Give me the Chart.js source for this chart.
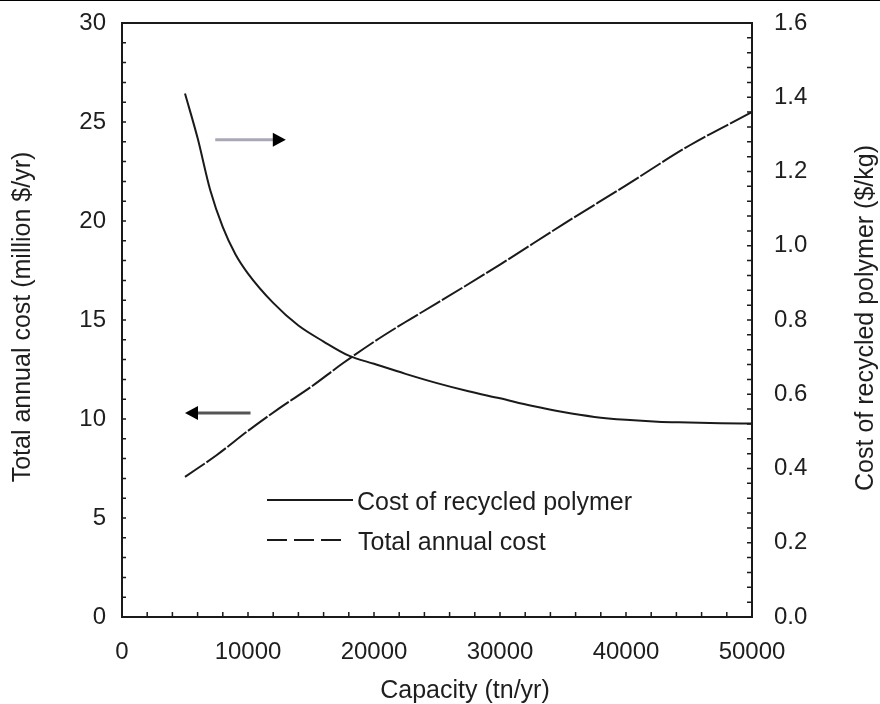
<!DOCTYPE html>
<html>
<head>
<meta charset="utf-8">
<script src="https://cdn.jsdelivr.net/npm/chart.js@4.4.1/dist/chart.umd.min.js"></script>
<style>
html, body { margin: 0; padding: 0; background: #fff; }
#wrap { width: 880px; height: 704px; position: relative; }
</style>
</head>
<body>
<div id="wrap"><canvas id="myChart"></canvas></div>
<script>
// cost of recycled polymer ($/kg) -> right axis
var costCapacity = [5000, 6000, 7000, 8000, 9000, 10000, 12000, 14000, 16000, 18000, 20000, 22500, 25000, 27500, 30000, 32500, 35000, 37500, 40000, 42500, 45000, 47500, 50000];
var costPolymer = [1.41, 1.29, 1.15, 1.05, 0.977, 0.925, 0.846, 0.785, 0.742, 0.704, 0.682, 0.655, 0.630, 0.608, 0.589, 0.569, 0.552, 0.539, 0.531, 0.526, 0.524, 0.522, 0.521];

// total annual cost (million $/yr) -> left axis
var totalCapacity = [5000, 7500, 10000, 12500, 15000, 17500, 20000, 22500, 25000, 30000, 35000, 40000, 45000, 50000];
var totalCost = [7.08, 8.17, 9.4, 10.55, 11.62, 12.8, 13.9, 14.9, 15.85, 17.8, 19.83, 21.8, 23.8, 25.5];

var xTicks = [0, 10000, 20000, 30000, 40000, 50000];
var leftTicks = [0, 5, 10, 15, 20, 25, 30];
var rightTicks = [0, 0.2, 0.4, 0.6, 0.8, 1.0, 1.2, 1.4, 1.6];

var seriesNames = ["Cost of recycled polymer", "Total annual cost"];
var xTitle = "Capacity (tn/yr)";
var leftTitle = "Total annual cost (million $/yr)";
var rightTitle = "Cost of recycled polymer ($/kg)";

// arrows, in data units (capacity, left axis value)
var arrowToRight = { from: 7400, to: 13000, y: 24.1 };
var arrowToLeft = { from: 10200, to: 5000, y: 10.3 };

var ink = "#1a1a1a";
var fontFam = "'Liberation Sans', Arial, sans-serif";

function pts(xs, ys) {
    return xs.map((x, i) => ({ x: x, y: ys[i] }));
}

function fixTicks(list) {
    return function (scale) {
        scale.ticks = list.map((v) => ({ value: v }));
    };
}

function arrow(ctx, x0, x1, y, shaft) {
    let dir = x1 > x0 ? 1 : -1;
    ctx.strokeStyle = shaft;
    ctx.lineWidth = 3;
    ctx.setLineDash([]);
    ctx.beginPath();
    ctx.moveTo(x0, y);
    ctx.lineTo(x1 - dir * 10, y);
    ctx.stroke();
    ctx.fillStyle = "#000";
    ctx.beginPath();
    ctx.moveTo(x1, y);
    ctx.lineTo(x1 - dir * 13, y - 7);
    ctx.lineTo(x1 - dir * 13, y + 7);
    ctx.closePath();
    ctx.fill();
}

var extras = {
    id: "extras",
    afterDraw(chart) {
        let ctx = chart.ctx;
        let a = chart.chartArea;
        let xs = chart.scales.x, yl = chart.scales.y, yr = chart.scales.y1;
        ctx.save();

        // thin rule across the very top
        ctx.fillStyle = "#000";
        ctx.fillRect(0, 0, chart.width, 1);

        // frame
        ctx.strokeStyle = ink;
        ctx.lineWidth = 2;
        ctx.strokeRect(a.left, a.top, a.right - a.left, a.bottom - a.top);

        // inward minor ticks
        ctx.lineWidth = 1.5;
        ctx.beginPath();
        for (let v = 0; v <= 50000; v += 2000) {
            let px = xs.getPixelForValue(v);
            ctx.moveTo(px, a.bottom);
            ctx.lineTo(px, a.bottom - 5);
        }
        for (let v = 0; v <= 30; v += 1) {
            let py = yl.getPixelForValue(v);
            ctx.moveTo(a.left, py);
            ctx.lineTo(a.left + 4, py);
        }
        for (let i = 0; i <= 40; i++) {
            let py = yr.getPixelForValue(i * 0.04);
            ctx.moveTo(a.right, py);
            ctx.lineTo(a.right - 5, py);
        }
        ctx.stroke();

        // arrows
        arrow(ctx, xs.getPixelForValue(arrowToRight.from), xs.getPixelForValue(arrowToRight.to),
            yl.getPixelForValue(arrowToRight.y), "#a9a7b6");
        arrow(ctx, xs.getPixelForValue(arrowToLeft.from), xs.getPixelForValue(arrowToLeft.to),
            yl.getPixelForValue(arrowToLeft.y), "#555");

        // legend
        ctx.strokeStyle = ink;
        ctx.lineWidth = 2;
        ctx.beginPath();
        ctx.moveTo(267, 500);
        ctx.lineTo(353, 500);
        ctx.stroke();
        ctx.setLineDash([20, 7]);
        ctx.beginPath();
        ctx.moveTo(267, 540);
        ctx.lineTo(347, 540);
        ctx.stroke();
        ctx.setLineDash([]);
        ctx.fillStyle = "#1e1e1e";
        ctx.font = "25px " + fontFam;
        ctx.textAlign = "left";
        ctx.textBaseline = "alphabetic";
        ctx.fillText(seriesNames[0], 357, 510);
        ctx.fillText(seriesNames[1], 358, 550);

        // axis titles
        ctx.textAlign = "center";
        ctx.textBaseline = "middle";
        ctx.fillText(xTitle, 465, 691);
        ctx.save();
        ctx.translate(23, 317);
        ctx.rotate(-Math.PI / 2);
        ctx.fillText(leftTitle, 0, 0);
        ctx.restore();
        ctx.save();
        ctx.translate(866, 318);
        ctx.rotate(-Math.PI / 2);
        ctx.fillText(rightTitle, 0, 0);
        ctx.restore();

        ctx.restore();
    }
};

var tickFont = { family: "'Liberation Sans', Arial, sans-serif", size: 24 };

function fitY(w) {
    return function (s) {
        s.width = w;
        s.paddingTop = 0;
        s.paddingBottom = 0;
    };
}

var myChart = new Chart(document.getElementById("myChart"), {
    type: "line",
    data: {
        datasets: [
            {
                label: seriesNames[0],
                data: pts(costCapacity, costPolymer),
                yAxisID: "y1",
                borderColor: ink,
                borderWidth: 2,
                pointRadius: 0,
                cubicInterpolationMode: "monotone",
                fill: false
            },
            {
                label: seriesNames[1],
                data: pts(totalCapacity, totalCost),
                yAxisID: "y",
                borderColor: ink,
                borderWidth: 2,
                borderDash: [24, 2],
                pointRadius: 0,
                cubicInterpolationMode: "monotone",
                fill: false
            }
        ]
    },
    options: {
        responsive: true,
        maintainAspectRatio: false,
        animation: false,
        layout: { padding: { top: 23, left: 0, right: 0, bottom: 0 } },
        plugins: {
            legend: { display: false },
            tooltip: { enabled: false }
        },
        scales: {
            x: {
                type: "linear",
                min: 0,
                max: 50000,
                afterBuildTicks: fixTicks(xTicks),
                afterFit: (s) => { s.height = 87; },
                grid: { display: false, drawTicks: false },
                border: { display: false },
                ticks: { font: tickFont, color: "#1e1e1e", padding: 21, maxRotation: 0, callback: (v) => String(v) }
            },
            y: {
                position: "left",
                min: 0,
                max: 30,
                afterBuildTicks: fixTicks(leftTicks),
                afterFit: fitY(122),
                grid: { display: false, drawTicks: false },
                border: { display: false },
                ticks: { font: tickFont, color: "#1e1e1e", padding: 16 }
            },
            y1: {
                position: "right",
                min: 0,
                max: 1.6,
                afterBuildTicks: fixTicks(rightTicks),
                afterFit: fitY(128),
                grid: { display: false, drawTicks: false },
                border: { display: false },
                ticks: { font: tickFont, color: "#1e1e1e", padding: 22, callback: (v) => v.toFixed(1) }
            }
        }
    },
    plugins: [extras]
});
</script>
</body>
</html>
